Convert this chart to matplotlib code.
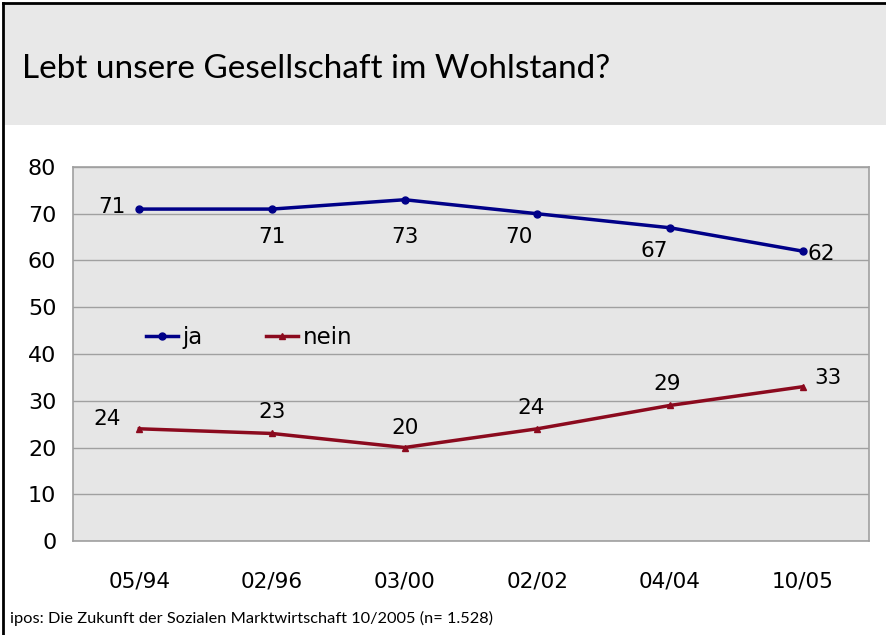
import matplotlib
matplotlib.use("Agg")
import matplotlib.pyplot as plt
from matplotlib.lines import Line2D

categories = ["05/94", "02/96", "03/00", "02/02", "04/04", "10/05"]
ja = [71, 71, 73, 70, 67, 62]
nein = [24, 23, 20, 24, 29, 33]
yticks = [0, 10, 20, 30, 40, 50, 60, 70, 80]
title = "Lebt unsere Gesellschaft im Wohlstand?"
source = "ipos: Die Zukunft der Sozialen Marktwirtschaft 10/2005 (n= 1.528)"

W, H = 887, 635
fig = plt.figure(figsize=(W / 100, H / 100), dpi=100)
fig.patch.set_facecolor("white")

# title band
fig.patches.append(plt.Rectangle((4 / W, 1 - 125 / H), 1, 121 / H, transform=fig.transFigure,
                                 facecolor="#e8e8e8", edgecolor="none", zorder=0))
fig.lines.append(Line2D([3 / W, 3 / W], [0, 1 - 3 / H], transform=fig.transFigure, color="black", lw=2))
fig.lines.append(Line2D([3 / W, 1], [1 - 3 / H, 1 - 3 / H], transform=fig.transFigure, color="black", lw=2))
fig.text(22 / W, 1 - 78 / H, title, fontsize=24, family="Lato", ha="left", va="baseline",
         color="black")
fig.text(10 / W, 1 - 623 / H, source, fontsize=11.8, family="Lato", ha="left", va="baseline")

ax = fig.add_axes([73 / W, 1 - 541 / H, (869 - 73) / W, (541 - 167) / H])
ax.set_facecolor("#e6e6e6")
x = list(range(len(categories)))
c_ja = "#000088"
c_nein = "#8b0a1e"
ax.plot(x, ja, color=c_ja, lw=2.5, marker="o", ms=5, label="ja", zorder=3)
ax.plot(x, nein, color=c_nein, lw=2.5, marker="^", ms=5, label="nein", zorder=3)
ax.set_xlim(-0.5, len(categories) - 0.5)
ax.set_ylim(0, 80)
ax.set_yticks(yticks)
ax.set_xticks(x)
ax.set_xticklabels(categories)
ax.tick_params(axis="both", length=0, labelsize=15.5)
ax.tick_params(axis="x", pad=22)
ax.tick_params(axis="y", pad=12, labelsize=16)
ax.grid(axis="y", color="#a0a0a0", lw=1)
ax.set_axisbelow(True)
for s in ax.spines.values():
    s.set_color("#a0a0a0")
    s.set_linewidth(1.2)

ja_off = [(-27, 2), (0, -28), (0, -37), (-18, -23), (-16, -23), (19, -3)]
nein_off = [(-32, 10), (0, 21), (0, 20), (-6, 21), (-3, 21), (25, 9)]
for i, v in enumerate(ja):
    ax.annotate(str(v), (i, v), xytext=ja_off[i], textcoords="offset pixels",
                ha="center", va="center", fontsize=15.5)
for i, v in enumerate(nein):
    ax.annotate(str(v), (i, v), xytext=nein_off[i], textcoords="offset pixels",
                ha="center", va="center", fontsize=15.5)

ax.legend(loc="upper left", bbox_to_anchor=(0.08, 0.6), ncol=2, frameon=False, fontsize=16.5,
          handlelength=1.4, handletextpad=0.2, columnspacing=2.75, borderaxespad=0)

fig.savefig("out.png", dpi=100)
